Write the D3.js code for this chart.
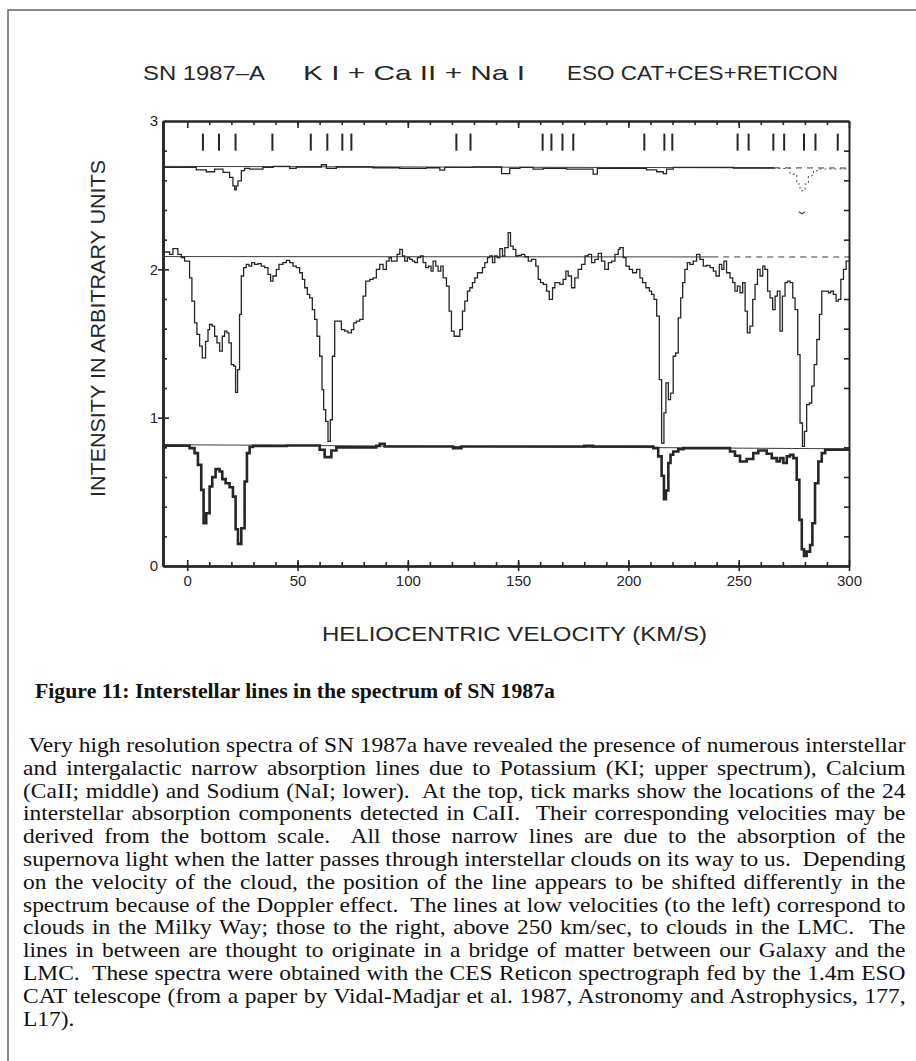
<!DOCTYPE html>
<html><head><meta charset="utf-8">
<script src="https://cdn.jsdelivr.net/npm/d3@7/dist/d3.min.js"></script>
<style>body{margin:0;background:#fff}svg{display:block}</style>
</head><body>
<svg id="c" width="916" height="1061"></svg>
<script>
// ---------- data ----------
const xTicks = [0, 50, 100, 150, 200, 250, 300];
const xMinor = d3.range(10, 300, 10);
const yTicks = [0, 1, 2, 3];
const yMinor = [0.2,0.4,0.6,0.8,1.2,1.4,1.6,1.8,2.2,2.4,2.6,2.8];
// velocities (km/s) of the 24 CaII components marked at the top
const components = [7.1,14.4,21.9,38.6,56.0,63.5,70.3,74.4,122.0,128.4,161.1,165.1,170.1,175.0,207.2,216.3,219.9,249.5,254.5,265.7,270.6,279.6,284.8,294.9];
// continuum levels [left, right]
const kCont = [2.694, 2.683];
const caCont = [2.086, 2.083];
const naCont = [0.818, 0.790];
// spectra: [velocity at bin start, intensity]
const caII = [[-11,2.117],[-8.0,2.101],[-6.5,2.139],[-4.25,2.101],[-2.7,2.079],[-1.2,2.056],[1.05,1.943],[2.1,1.786],[3.3,1.639],[4.4,1.561],[5.6,1.482],[6.8,1.403],[8.3,1.515],[9.4,1.594],[10.1,1.628],[11.3,1.617],[12.4,1.549],[13.45,1.504],[14.66,1.448],[15.87,1.549],[16.92,1.583],[17.98,1.572],[18.89,1.504],[19.95,1.358],[21.0,1.347],[21.9,1.171],[22.8,1.324],[23.7,1.696],[24.5,1.955],[25.55,2.011],[26.76,2.034],[27.97,2.022],[29.18,2.045],[30.54,2.034],[32.05,2.038],[33.56,2.022],[35.08,2.011],[36.59,1.966],[37.79,1.921],[38.86,1.955],[40.37,2.0],[41.58,2.034],[43.39,2.045],[44.91,2.061],[46.42,2.045],[47.93,2.022],[49.44,2.011],[50.96,1.977],[52.17,1.932],[53.23,1.876],[54.43,1.831],[55.49,1.808],[56.7,1.729],[57.76,1.662],[58.82,1.549],[60.03,1.414],[61.09,1.189],[61.84,1.054],[62.75,0.975],[63.81,0.84],[64.87,0.986],[65.78,1.414],[66.84,1.651],[69.86,1.594],[71.37,1.583],[72.88,1.572],[74.4,1.594],[75.46,1.639],[76.67,1.651],[78.18,1.662],[79.69,1.82],[80.9,1.921],[82.72,1.932],[84.23,1.943],[85.74,2.0],[87.25,2.034],[88.77,2.0],[90.28,2.056],[91.49,2.079],[92.55,2.056],[95.12,2.101],[96.33,2.135],[97.54,2.09],[98.6,2.056],[99.8,2.079],[100.86,2.067],[102.07,2.056],[103.13,2.045],[104.34,2.079],[105.7,2.09],[106.91,2.045],[108.12,2.011],[109.33,2.022],[110.54,1.988],[111.45,2.056],[112.66,2.022],[113.72,1.988],[114.93,2.022],[115.99,1.943],[117.5,1.887],[118.71,1.718],[119.77,1.583],[120.98,1.549],[123.55,1.594],[124.76,1.718],[125.82,1.786],[127.03,1.853],[128.09,1.876],[129.29,1.91],[130.36,1.943],[131.57,1.977],[133.84,2.011],[134.89,2.045],[136.1,2.079],[137.16,2.09],[138.37,2.045],[139.43,2.09],[140.49,2.079],[141.69,2.139],[142.9,2.09],[143.96,2.146],[145.48,2.247],[146.54,2.157],[147.75,2.135],[148.96,2.09],[150.0,2.094],[151.5,2.101],[153.0,2.085],[154.6,2.056],[156.1,2.067],[158.0,2.022],[159.1,1.932],[160.15,1.91],[161.4,1.898],[162.9,1.853],[164.1,1.797],[165.6,1.876],[166.65,1.91],[168.9,1.898],[170.4,1.932],[171.65,1.988],[172.7,1.955],[174.2,1.876],[175.7,1.943],[177.2,2.0],[178.75,2.034],[180.3,2.09],[181.8,2.101],[183.3,2.045],[184.8,2.067],[186.3,2.108],[187.8,2.056],[189.3,2.0],[190.9,2.045],[192.4,2.056],[193.9,2.101],[195.4,2.135],[196.15,2.146],[197.65,2.079],[198.9,2.022],[200.4,2.0],[201.9,1.977],[203.7,2.0],[205.2,1.943],[206.4,1.91],[207.9,1.876],[209.5,1.853],[210.5,1.831],[211.6,1.797],[212.8,1.684],[214.0,1.257],[215.05,0.829],[216.1,1.032],[217.0,1.234],[218.1,1.121],[219.1,1.166],[220.3,1.414],[221.4,1.437],[222.6,1.673],[223.7,1.808],[224.6,1.91],[225.6,2.0],[226.7,2.045],[227.9,2.034],[229.4,2.056],[230.9,2.101],[232.4,2.067],[233.95,2.022],[235.5,2.027],[237.0,2.011],[238.5,1.988],[239.7,1.955],[241.2,2.034],[242.3,2.0],[243.3,2.056],[244.5,1.977],[246.05,1.943],[247.3,1.91],[248.3,1.853],[249.4,1.887],[250.6,1.842],[251.8,1.91],[252.9,1.718],[253.9,1.572],[255.1,1.617],[256.35,1.797],[257.4,1.898],[258.5,2.0],[259.7,1.955],[260.9,2.022],[261.9,2.0],[263.1,1.853],[264.2,1.808],[265.4,1.729],[266.5,1.82],[267.5,1.853],[268.7,1.583],[269.8,1.82],[271.0,1.91],[272.1,1.921],[273.3,1.91],[274.5,1.808],[275.55,1.729],[276.75,1.425],[277.8,0.964],[278.9,0.806],[279.8,0.907],[280.8,1.088],[282.05,1.099],[283.1,1.212],[284.2,1.358],[285.4,1.527],[286.6,1.696],[287.65,1.853],[289.2,1.853],[290.7,1.842],[291.7,1.853],[292.9,1.831],[294.15,1.786],[295.2,1.797],[296.3,1.932],[297.5,2.0],[298.7,2.056],[300,2.056]];
const naI = [[-11,0.811],[1.05,0.795],[3.31,0.761],[4.83,0.682],[6.34,0.513],[7.4,0.288],[8.61,0.356],[10.12,0.536],[11.33,0.599],[12.84,0.653],[14.66,0.637],[15.87,0.586],[17.38,0.558],[19.19,0.531],[20.7,0.468],[21.92,0.248],[22.98,0.149],[24.49,0.255],[26.0,0.57],[27.06,0.761],[28.27,0.802],[29.78,0.81],[45,0.812],[60.03,0.784],[62.3,0.734],[65.32,0.779],[67.6,0.80],[85.7,0.81],[87.25,0.824],[89.5,0.806],[120.5,0.795],[124.3,0.806],[180,0.81],[184,0.806],[211.3,0.795],[213.5,0.739],[215.05,0.608],[216.1,0.45],[217.0,0.509],[218.1,0.694],[219.1,0.75],[220.3,0.772],[222.6,0.788],[224.9,0.795],[246.05,0.772],[248.3,0.743],[250.6,0.705],[253.6,0.721],[256.6,0.761],[258.9,0.779],[262.7,0.757],[265.0,0.727],[267.2,0.705],[268.7,0.727],[270.25,0.694],[271.8,0.739],[273.3,0.75],[274.8,0.727],[276.3,0.581],[277.5,0.311],[278.6,0.113],[279.6,0.068],[280.8,0.097],[282.35,0.142],[283.4,0.288],[284.6,0.558],[286.1,0.705],[287.65,0.761],[289.2,0.784],[300,0.784]];
const kI = [[-11,2.687],[4.07,2.671],[8.6,2.658],[12.4,2.676],[16.2,2.653],[19.2,2.62],[20.7,2.563],[21.5,2.536],[22.2,2.563],[23.0,2.597],[24.5,2.665],[26.0,2.68],[28.3,2.676],[34.3,2.687],[38.9,2.694],[46.4,2.68],[49.4,2.69],[60.8,2.705],[63.1,2.68],[67.6,2.69],[84.2,2.685],[96.3,2.68],[108.4,2.685],[114.5,2.669],[116.7,2.687],[129.6,2.69],[142.5,2.645],[146.2,2.68],[150.8,2.687],[156.8,2.676],[161.4,2.68],[172.0,2.676],[184.0,2.642],[185.9,2.68],[208.2,2.671],[212.8,2.658],[215.8,2.645],[217.3,2.676],[220.3,2.687],[247.6,2.683],[265.7,2.68],[273.3,2.642],[276.3,2.575],[277.8,2.53],[279.0,2.53],[280.1,2.575],[281.6,2.631],[283.9,2.665],[286.9,2.676],[300,2.676]];
// faint isolated KI point at the bottom of the LMC line
const kIFaint = [[278.6, 2.375]];
const titleParts = ["SN 1987\u2013A", "K I + Ca II + Na I", "ESO CAT+CES+RETICON"];
const xLabel = "HELIOCENTRIC VELOCITY (KM/S)";
const yLabel = "INTENSITY IN ARBITRARY UNITS";
const caption = "Figure 11: Interstellar lines in the spectrum of SN 1987a";
const body = [
" Very high resolution spectra of SN 1987a have revealed the presence of numerous interstellar",
"and intergalactic narrow absorption lines due to Potassium (KI; upper spectrum), Calcium",
"(CaII; middle) and Sodium (NaI; lower).  At the top, tick marks show the locations of the 24",
"interstellar absorption components detected in CaII.  Their corresponding velocities may be",
"derived from the bottom scale.  All those narrow lines are due to the absorption of the",
"supernova light when the latter passes through interstellar clouds on its way to us.  Depending",
"on the velocity of the cloud, the position of the line appears to be shifted differently in the",
"spectrum because of the Doppler effect.  The lines at low velocities (to the left) correspond to",
"clouds in the Milky Way; those to the right, above 250 km/sec, to clouds in the LMC.  The",
"lines in between are thought to originate in a bridge of matter between our Galaxy and the",
"LMC.  These spectra were obtained with the CES Reticon spectrograph fed by the 1.4m ESO",
"CAT telescope (from a paper by Vidal-Madjar et al. 1987, Astronomy and Astrophysics, 177,",
"L17)."];

// ---------- drawing ----------
const svg = d3.select('#c');
const ink = '#262626';
svg.append('rect').attr('width',916).attr('height',1061).attr('fill','#fff');
// page frame (top + left visible)
svg.append('path').attr('d','M8,1061V10H916').attr('fill','none').attr('stroke','#666').attr('stroke-width',1.5);

const x = d3.scaleLinear().domain([-11, 300]).range([163, 849]);
const y = d3.scaleLinear().domain([0, 3]).range([566, 121]);
const sans = "'Liberation Sans', Arial, sans-serif";

function styleAxis(g, w) {
  g.select('.domain').attr('stroke', ink).attr('stroke-width', w || 2);
  g.selectAll('.tick line').attr('stroke', ink).attr('stroke-width', 1.6);
  g.selectAll('text').attr('font-family', sans).attr('font-size', 15).attr('fill', ink);
}
const none = () => '';
// bottom
const bY = y(0);
styleAxis(svg.append('g').attr('transform',`translate(0,${bY})`).call(d3.axisBottom(x).tickValues(xMinor).tickSize(-4).tickSizeOuter(0).tickFormat(none)));
styleAxis(svg.append('g').attr('transform',`translate(0,${bY})`).call(d3.axisBottom(x).tickValues(xTicks).tickSize(-6).tickSizeOuter(0).tickFormat(none)));
styleAxis(svg.append('g').attr('transform',`translate(0,${bY})`).call(d3.axisBottom(x).tickValues(xTicks).tickSize(5).tickPadding(4).tickSizeOuter(0)));
// top
styleAxis(svg.append('g').attr('transform',`translate(0,${y(3)})`).call(d3.axisTop(x).tickValues(xMinor).tickSize(-4).tickSizeOuter(0).tickFormat(none)));
styleAxis(svg.append('g').attr('transform',`translate(0,${y(3)})`).call(d3.axisTop(x).tickValues(xTicks).tickSize(-7).tickSizeOuter(0).tickFormat(none)));
// left
const lX = x(-11);
styleAxis(svg.append('g').attr('transform',`translate(${lX},0)`).call(d3.axisLeft(y).tickValues(yMinor).tickSize(-4).tickSizeOuter(0).tickFormat(none)));
styleAxis(svg.append('g').attr('transform',`translate(${lX},0)`).call(d3.axisLeft(y).tickValues([1,2]).tickSize(-6).tickSizeOuter(0).tickFormat(none)));
styleAxis(svg.append('g').attr('transform',`translate(${lX},0)`).call(d3.axisLeft(y).tickValues([1,2]).tickSize(5).tickSizeOuter(0).tickFormat(none)));
styleAxis(svg.append('g').attr('transform',`translate(${lX},0)`).call(d3.axisLeft(y).tickValues(yTicks).tickSize(0).tickPadding(5).tickSizeOuter(0).tickFormat(d3.format('d'))));
// right
styleAxis(svg.append('g').attr('transform',`translate(${x(300)},0)`).call(d3.axisRight(y).tickValues(yMinor).tickSize(-5).tickSizeOuter(0).tickFormat(none)));

// continuum lines
function cont(lv, dashFrom) {
  const line = d3.line().x(d=>x(d[0])).y(d=>y(d[1]));
  const f = v => lv[0] + (lv[1]-lv[0])*(v+11)/311;
  svg.append('path').attr('d', line([[-11,f(-11)],[dashFrom,f(dashFrom)]]))
    .attr('fill','none').attr('stroke',ink).attr('stroke-width',0.9);
  svg.append('path').attr('d', line([[dashFrom,f(dashFrom)],[300,f(300)]]))
    .attr('fill','none').attr('stroke',ink).attr('stroke-width',0.9).attr('stroke-dasharray','6,5');
}
cont(kCont, 266);
cont(caCont, 238);
cont(naCont, 300);

// spectra
const step = d3.line().x(d=>x(d[0])).y(d=>y(d[1])).curve(d3.curveStepAfter);
svg.append('path').attr('d', step(caII)).attr('fill','none').attr('stroke',ink).attr('stroke-width',1.3);
svg.append('path').attr('d', step(naI)).attr('fill','none').attr('stroke',ink).attr('stroke-width',2.6);
const kSolid = kI.filter(d => d[0] <= 265.7);
const kDot = kI.filter(d => d[0] >= 265.7);
svg.append('path').attr('d', step(kSolid)).attr('fill','none').attr('stroke',ink).attr('stroke-width',1.3);
svg.append('path').attr('d', step(kDot)).attr('fill','none').attr('stroke','#555').attr('stroke-width',1.1).attr('stroke-dasharray','2,3');
svg.append('g').selectAll('path').data(kIFaint).join('path')
  .attr('d', d => `M${x(d[0])-3},${y(d[1])-2}L${x(d[0])},${y(d[1])}L${x(d[0])+3},${y(d[1])-2}`)
  .attr('fill','none').attr('stroke','#444').attr('stroke-width',1.2);

// component tick marks
svg.append('g').selectAll('line').data(components).join('line')
  .attr('x1', d=>x(d)).attr('x2', d=>x(d))
  .attr('y1', y(2.915)).attr('y2', y(2.80))
  .attr('stroke', ink).attr('stroke-width', 2);

// title
const tPos = [[143,122],[303,222],[567,271]];
titleParts.forEach((t,i) => {
  svg.append('text').attr('x', tPos[i][0]).attr('y', 80).attr('textLength', tPos[i][1]).attr('lengthAdjust','spacingAndGlyphs')
    .attr('font-family', sans).attr('font-size', 21).attr('fill', ink).text(t);
});
// axis titles
svg.append('text').attr('x', 322).attr('y', 641).attr('textLength', 385).attr('lengthAdjust','spacingAndGlyphs')
  .attr('font-family', sans).attr('font-size', 21).attr('fill', ink).text(xLabel);
svg.append('text').attr('transform','translate(105,497) rotate(-90)').attr('textLength', 337).attr('lengthAdjust','spacingAndGlyphs')
  .attr('font-family', sans).attr('font-size', 21).attr('fill', ink).text(yLabel);

// caption
const serif = "'Liberation Serif', 'Times New Roman', serif";
svg.append('text').attr('x', 35).attr('y', 698).attr('textLength', 520).attr('lengthAdjust','spacingAndGlyphs')
  .attr('font-family', serif).attr('font-weight','bold').attr('font-size', 21).attr('fill', '#111').text(caption);
// body text (justified, slightly wide face)
const left = 23, right = 906;
const bodyG = svg.append('g');
const els = body.map((t,i) => bodyG.append('text').attr('x', 0).attr('y', 752 + i*22.8)
    .attr('font-family', serif).attr('font-size', 21.5).attr('fill', '#111')
    .attr('xml:space','preserve').style('white-space','pre').text(t));
const nats = els.map(e => e.node().getComputedTextLength());
const maxNat = d3.max(nats.slice(0, body.length - 1));
const sx = (right - left) / maxNat;
bodyG.attr('transform', `translate(${left},0) scale(${sx},1)`);
els.forEach((el, i) => {
  if (i < body.length - 1) {
    const spaces = (body[i].match(/ /g) || []).length;
    el.attr('word-spacing', ((right - left) / sx - nats[i]) / spaces);
  }
});
</script>
</body></html>
